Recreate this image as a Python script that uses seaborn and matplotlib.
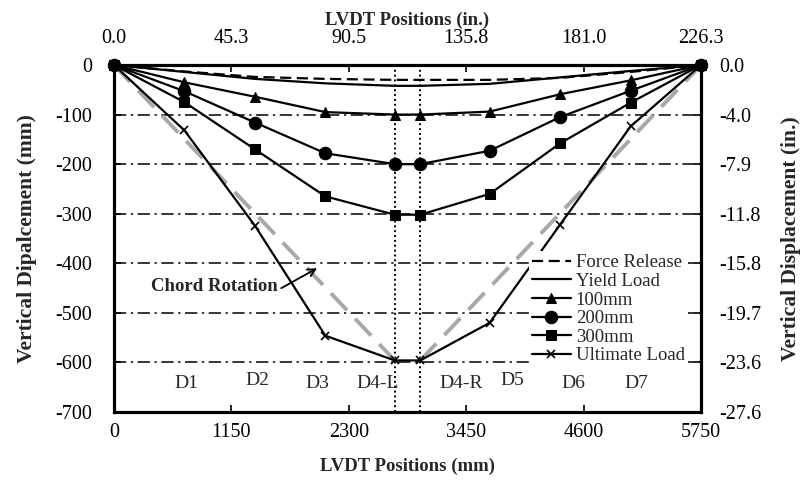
import numpy as np
import pandas as pd
from matplotlib import pyplot as plt
import seaborn as sns

sns.set_theme(style="white")
plt.rcParams["font.family"] = ["Liberation Serif", "DejaVu Serif"]

# LVDT positions (mm), supports at both ends
positions = [0, 690, 1380, 2070, 2750, 3000, 3680, 4370, 5060, 5750]
force_release = [0, -13, -24, -28, -30, -30, -30, -26, -14, 0]
yield_load = [0, -14, -28, -37, -42, -42, -38, -25, -12, 0]
disp_100 = [0, -35, -64, -95, -100, -100, -94, -59, -31, 0]
disp_200 = [0, -53, -116, -178, -200, -200, -173, -105, -52, 0]
disp_300 = [0, -75, -170, -265, -302, -302, -260, -158, -76, 0]
ultimate = [0, -132, -324, -546, -596, -596, -520, -322, -124, 0]

lvdt_names = ["D1", "D2", "D3", "D4-L", "D4-R", "D5", "D6", "D7"]
name_x = [705, 1400, 1990, 2585, 3405, 3905, 4496, 5119]
name_y = [-642, -636, -642, -642, -642, -636, -642, -642]

x_ticks = [0, 1150, 2300, 3450, 4600, 5750]
x_ticks_in = ["0.0", "45.3", "90.5", "135.8", "181.0", "226.3"]
y_ticks = [0, -100, -200, -300, -400, -500, -600, -700]
y_ticks_in = ["0.0", "-4.0", "-7.9", "-11.8", "-15.8", "-19.7", "-23.6", "-27.6"]

fig = plt.figure(figsize=(8.07, 4.84), dpi=100)
ax = fig.add_axes([114 / 807, 1 - 412 / 484, 587 / 807, 347 / 484])

# grid lines and the two middle LVDT lines
for yv in y_ticks[1:-1]:
    ax.axhline(yv, color="black", lw=1.1, ls=(0, (8, 3, 1.5, 3)), zorder=1)
for xv in positions[4:6]:
    ax.axvline(xv, color="black", lw=1.4, ls=(0, (1, 1.5)), zorder=1)

# chord rotation lines
sns.lineplot(x=[positions[0], positions[4]], y=[ultimate[0], ultimate[4]], ax=ax,
             color="#a8a8a8", lw=2.8, ls=(0, (6, 3)), zorder=2)
sns.lineplot(x=[positions[5], positions[-1]], y=[ultimate[5], ultimate[-1]], ax=ax,
             color="#a8a8a8", lw=2.8, ls=(0, (6, 3)), zorder=2)

series = [
    ("Force Release", force_release, dict(ls=(0, (5, 2.5)), marker=None)),
    ("Yield Load", yield_load, dict(ls="-", marker=None)),
    ("100mm", disp_100, dict(ls="-", marker="^", markersize=7)),
    ("200mm", disp_200, dict(ls="-", marker="o", markersize=9)),
    ("300mm", disp_300, dict(ls="-", marker="s", markersize=6.5)),
    ("Ultimate Load", ultimate, dict(ls="-", marker="x", markersize=6, markeredgewidth=1.2)),
]
for label, vals, kw in series:
    sns.lineplot(x=positions, y=vals, ax=ax, color="black", lw=1.6, label=label,
                 markeredgecolor="black", zorder=3, clip_on=False, **kw)

for name, xv, yv in zip(lvdt_names, name_x, name_y):
    ax.text(xv, yv, name, ha="center", va="center", fontsize=14)

ax.annotate("Chord Rotation", xy=(1990, -410), xytext=(985, -447),
            ha="center", va="center", fontsize=13.5, fontweight="bold",
            arrowprops=dict(arrowstyle="->", color="black", lw=1.3,
                            shrinkA=0, shrinkB=0, relpos=(1.0, 0.3)))

ax.set_xlim(0, 5750)
ax.set_ylim(-700, 0)
ax.set_xticks(x_ticks)
ax.set_xticklabels([str(t) for t in x_ticks])
ax.set_yticks(y_ticks)
ax.set_yticklabels([str(t) for t in y_ticks])
ax.set_xlabel("LVDT Positions (mm)", fontsize=13.5, fontweight="bold", labelpad=11)
ax.set_ylabel("Vertical Dipalcement (mm)", fontsize=15.5, fontweight="bold", labelpad=13)

ax_top = ax.twiny()
ax_top.set_xlim(ax.get_xlim())
ax_top.set_xticks(x_ticks)
ax_top.set_xticklabels(x_ticks_in)
ax_top.set_xlabel("LVDT Positions (in.)", fontsize=13.5, fontweight="bold", labelpad=3)

ax_right = ax.twinx()
ax_right.set_ylim(ax.get_ylim())
ax_right.set_yticks(y_ticks)
ax_right.set_yticklabels(y_ticks_in)
ax_right.set_ylabel("Vertical Displacement (in.)", fontsize=15.5, fontweight="bold", labelpad=14)

for a in (ax, ax_top, ax_right):
    for sp in a.spines.values():
        sp.set_color("black")
        sp.set_linewidth(2.2)
    a.tick_params(direction="in", length=5, width=1.2, labelsize=14.5, colors="black")
    a.grid(False)
ax.tick_params(axis="y", pad=16)
ax.tick_params(axis="x", pad=8)
ax_top.tick_params(axis="x", pad=12)
ax_right.tick_params(axis="y", pad=13)

leg = ax.legend(loc="upper right", bbox_to_anchor=(0.993, 0.49), fontsize=13.5,
                frameon=True, framealpha=1, edgecolor="none", facecolor="white",
                handlelength=2.1, handletextpad=0.25, labelspacing=0.08,
                borderpad=0.15, fancybox=False)
leg.set_zorder(5)

fig.savefig("out.png", dpi=100)
